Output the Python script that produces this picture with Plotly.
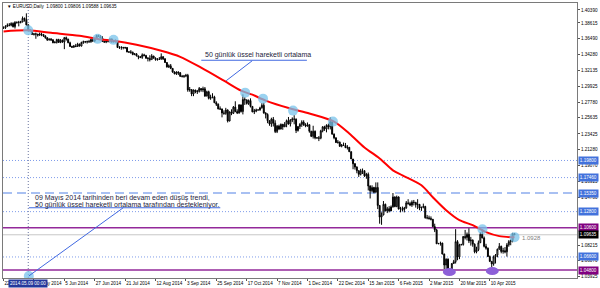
import plotly.graph_objects as go

# ---------------- data (EURUSD daily) ----------------
first_open = 1.3790
closes = [
1.3795,1.3815,1.3830,1.3830,1.3855,1.3810,1.3870,1.3870,1.3870,1.3875,
1.3925,1.3910,1.3835,1.3760,1.3760,1.3705,1.3710,1.3710,1.3695,1.3710,
1.3705,1.3685,1.3660,1.3630,1.3640,1.3630,1.3590,1.3595,1.3635,1.3595,
1.3625,1.3600,1.3660,1.3640,1.3590,1.3540,1.3530,1.3545,1.3540,1.3570,
1.3545,1.3595,1.3605,1.3605,1.3605,1.3605,1.3635,1.3615,1.3645,1.3690,
1.3680,1.3655,1.3610,1.3600,1.3610,1.3615,1.3640,1.3610,1.3605,1.3615,
1.3525,1.3525,1.3525,1.3525,1.3525,1.3465,1.3465,1.3460,1.3430,1.3440,
1.3410,1.3395,1.3390,1.3425,1.3415,1.3380,1.3375,1.3360,1.3410,1.3380,
1.3360,1.3365,1.3365,1.3400,1.3370,1.3320,1.3260,1.3275,1.3240,1.3190,
1.3165,1.3190,1.3180,1.3130,1.3130,1.3135,1.3145,1.2945,1.2950,1.2890,
1.2945,1.2920,1.2925,1.2965,1.2945,1.2960,1.2860,1.2920,1.2830,1.2845,
1.2850,1.2770,1.2750,1.2685,1.2685,1.2630,1.2625,1.2670,1.2520,1.2645,
1.2625,1.2710,1.2650,1.2630,1.2740,1.2650,1.2815,1.2810,1.2760,1.2800,
1.2720,1.2645,1.2655,1.2670,1.2672,1.2700,1.2735,1.2630,1.2610,1.2525,
1.2480,1.2545,1.2490,1.2375,1.2450,1.2410,1.2475,1.2440,1.2475,1.2525,
1.2480,1.2535,1.2545,1.2545,1.2390,1.2445,1.2475,1.2505,1.2465,1.2450,
1.2470,1.2380,1.2310,1.2380,1.2290,1.2288,1.2285,1.2385,1.2440,1.2410,
1.2460,1.2440,1.2510,1.2340,1.2290,1.2225,1.2230,1.2175,1.2190,1.2185,
1.2155,1.2160,1.2100,1.2000,1.1935,1.1890,1.1840,1.1790,1.1840,1.1840,
1.1770,1.1790,1.1630,1.1565,1.1610,1.1545,1.1610,1.1365,1.1205,1.1235,
1.1380,1.1290,1.1320,1.1290,1.1345,1.1480,1.1350,1.1480,1.1315,1.1320,
1.1310,1.1330,1.1400,1.1390,1.1370,1.1410,1.1405,1.1375,1.1380,1.1330,
1.1340,1.1350,1.1195,1.1195,1.1185,1.1175,1.1075,1.1030,1.0840,1.0845,
1.0850,1.0700,1.0550,1.0630,1.0495,1.0490,1.0570,1.0595,1.0870,1.0660,
1.0825,1.0830,1.0940,1.0925,1.0970,1.0880,1.0890,1.0835,1.0730,1.0760,
1.0855,1.0970,1.0920,1.0805,1.0780,1.0665,1.0600,1.0565,1.0660,1.0685,
1.0765,1.0805,1.0735,1.0745,1.0730,1.0825,1.0870,1.0885,1.0980,1.09635]
highs = [
1.3815,1.3830,1.3855,1.3860,1.3870,1.3870,1.3885,1.3880,1.3890,1.3890,
1.3950,1.3935,1.3993,1.3845,1.3775,1.3765,1.3725,1.3730,1.3710,1.3730,
1.3730,1.3710,1.3690,1.3665,1.3650,1.3655,1.3640,1.3615,1.3645,1.3645,
1.3640,1.3635,1.3670,1.3675,1.3645,1.3605,1.3550,1.3560,1.3575,1.3590,
1.3580,1.3605,1.3620,1.3615,1.3620,1.3630,1.3645,1.3645,1.3650,1.3700,
1.3700,1.3695,1.3680,1.3615,1.3625,1.3635,1.3650,1.3650,1.3625,1.3635,
1.3620,1.3545,1.3545,1.3535,1.3535,1.3530,1.3475,1.3490,1.3470,1.3445,
1.3445,1.3415,1.3410,1.3445,1.3440,1.3425,1.3395,1.3420,1.3435,1.3410,
1.3390,1.3380,1.3395,1.3445,1.3405,1.3380,1.3325,1.3295,1.3300,1.3215,
1.3200,1.3200,1.3200,1.3190,1.3150,1.3150,1.3165,1.3165,1.2985,1.2950,
1.2950,1.2945,1.2945,1.2985,1.2965,1.2990,1.2985,1.2935,1.2935,1.2880,
1.2900,1.2865,1.2790,1.2760,1.2720,1.2690,1.2665,1.2700,1.2680,1.2650,
1.2680,1.2725,1.2790,1.2680,1.2750,1.2745,1.2885,1.2845,1.2810,1.2815,
1.2830,1.2725,1.2685,1.2690,1.2675,1.2715,1.2765,1.2770,1.2640,1.2625,
1.2525,1.2565,1.2575,1.2530,1.2465,1.2470,1.2485,1.2480,1.2505,1.2540,
1.2575,1.2545,1.2570,1.2600,1.2555,1.2450,1.2490,1.2530,1.2530,1.2490,
1.2500,1.2470,1.2385,1.2455,1.2390,1.2295,1.2315,1.2400,1.2450,1.2455,
1.2475,1.2485,1.2570,1.2510,1.2350,1.2295,1.2260,1.2240,1.2205,1.2225,
1.2220,1.2190,1.2165,1.2105,1.1975,1.1945,1.1900,1.1845,1.1865,1.1870,
1.1845,1.1810,1.1815,1.1640,1.1640,1.1620,1.1680,1.1680,1.1365,1.1270,
1.1425,1.1390,1.1345,1.1355,1.1365,1.1535,1.1490,1.1500,1.1490,1.1345,
1.1350,1.1345,1.1425,1.1450,1.1415,1.1435,1.1440,1.1415,1.1450,1.1385,
1.1345,1.1390,1.1360,1.1235,1.1225,1.1215,1.1180,1.1115,1.1045,1.0850,
1.0870,1.0855,1.0705,1.0640,1.0640,1.0500,1.0575,1.0620,1.1040,1.0890,
1.0840,1.0840,1.0945,1.1030,1.0995,1.1052,1.0935,1.0900,1.0845,1.0800,
1.0885,1.1000,1.1035,1.0940,1.0840,1.0790,1.0680,1.0600,1.0680,1.0700,
1.0775,1.0850,1.0815,1.0785,1.0795,1.0850,1.0890,1.0900,1.0990,1.09806]
lows = [
1.3780,1.3780,1.3805,1.3815,1.3815,1.3800,1.3785,1.3850,1.3815,1.3855,
1.3870,1.3880,1.3825,1.3750,1.3740,1.3700,1.3690,1.3645,1.3675,1.3685,
1.3680,1.3670,1.3645,1.3615,1.3620,1.3615,1.3585,1.3585,1.3580,1.3590,
1.3585,1.3590,1.3503,1.3620,1.3585,1.3535,1.3520,1.3520,1.3530,1.3535,
1.3540,1.3540,1.3575,1.3585,1.3580,1.3590,1.3590,1.3600,1.3600,1.3640,
1.3670,1.3650,1.3600,1.3590,1.3585,1.3595,1.3595,1.3590,1.3595,1.3595,
1.3520,1.3505,1.3495,1.3500,1.3505,1.3460,1.3450,1.3440,1.3420,1.3420,
1.3405,1.3365,1.3380,1.3370,1.3405,1.3370,1.3335,1.3335,1.3360,1.3375,
1.3345,1.3345,1.3355,1.3360,1.3355,1.3315,1.3250,1.3245,1.3230,1.3180,
1.3160,1.3150,1.3150,1.3130,1.3115,1.3110,1.3120,1.2920,1.2920,1.2860,
1.2860,1.2900,1.2890,1.2910,1.2920,1.2915,1.2855,1.2860,1.2815,1.2810,
1.2830,1.2765,1.2725,1.2680,1.2670,1.2570,1.2605,1.2605,1.2500,1.2515,
1.2600,1.2615,1.2640,1.2615,1.2620,1.2635,1.2610,1.2740,1.2745,1.2740,
1.2705,1.2640,1.2615,1.2640,1.2665,1.2660,1.2690,1.2620,1.2555,1.2490,
1.2455,1.2440,1.2445,1.2355,1.2355,1.2395,1.2405,1.2400,1.2445,1.2435,
1.2470,1.2445,1.2505,1.2475,1.2355,1.2375,1.2410,1.2440,1.2455,1.2435,
1.2445,1.2360,1.2300,1.2280,1.2270,1.2280,1.2245,1.2270,1.2365,1.2385,
1.2365,1.2405,1.2405,1.2335,1.2270,1.2220,1.2210,1.2165,1.2160,1.2180,
1.2150,1.2130,1.2095,1.2000,1.1860,1.1855,1.1805,1.1755,1.1775,1.1795,
1.1755,1.1730,1.1570,1.1460,1.1545,1.1530,1.1545,1.1315,1.1115,1.1100,
1.1230,1.1285,1.1260,1.1270,1.1310,1.1335,1.1340,1.1340,1.1310,1.1270,
1.1285,1.1270,1.1320,1.1375,1.1355,1.1345,1.1365,1.1335,1.1315,1.1300,
1.1290,1.1325,1.1185,1.1175,1.1170,1.1160,1.1070,1.1000,1.0840,1.0835,
1.0815,1.0695,1.0495,1.0495,1.0462,1.0480,1.0460,1.0565,1.0570,1.0615,
1.0630,1.0820,1.0815,1.0900,1.0885,1.0850,1.0815,1.0800,1.0710,1.0710,
1.0740,1.0850,1.0915,1.0790,1.0760,1.0660,1.0590,1.0521,1.0540,1.0570,
1.0655,1.0760,1.0710,1.0705,1.0710,1.0665,1.0800,1.0820,1.0860,1.09588]
opens = [first_open] + closes[:-1]
bars = list(range(len(closes)))

# 50-day exponential moving average
ema_bars = [0, 13, 25, 40, 51, 58, 70, 83, 93, 104, 116, 125, 131, 138, 151,
            161, 174, 182, 190, 198, 205, 210, 220, 226, 233, 240, 247, 254, 261, 269]
ema_vals = [1.3746, 1.3760, 1.3726, 1.3685, 1.3636, 1.3617, 1.3562, 1.3480, 1.3398,
            1.3249, 1.3071, 1.2935, 1.2880, 1.2799, 1.2690, 1.2622, 1.2512, 1.2349,
            1.2158, 1.2008, 1.1845, 1.1776, 1.1640, 1.1476, 1.1299, 1.1163, 1.1095,
            1.1000, 1.0945, 1.0928]

# highlighted touches (light blue) and bottoms (purple)
touch_bars = [13, 49.5, 57.9, 127.2, 136.6, 152.4, 173.4, 252.1, 269, 13.3]
touch_vals = [1.3760, 1.3644, 1.3630, 1.2908, 1.2826, 1.2662, 1.2512, 1.1040, 1.0931, 1.0400]
bottom_bars = [234.7, 257.3]
bottom_vals = [1.0454, 1.0468]

# x-axis labels
x_tick_bars = [0, 16, 32, 48, 64, 80, 96, 112, 128, 144, 160, 176, 192, 208, 224, 240, 256]
x_tick_text = ["22 Apr 2014", "14 May 2014", "5 Jun 2014", "27 Jun 2014", "21 Jul 2014",
               "12 Aug 2014", "3 Sep 2014", "25 Sep 2014", "17 Oct 2014", "7 Nov 2014",
               "1 Dec 2014", "22 Dec 2014", "15 Jan 2015", "6 Feb 2015", "2 Mar 2015",
               "20 Mar 2015", "10 Apr 2015"]
# y-axis labels (those hidden under the level boxes are left out)
y_ticks = [1.40390, 1.38615, 1.36490, 1.34280, 1.32135, 1.29925, 1.27780, 1.25635,
           1.23425, 1.21280, 1.19070, 1.16925, 1.14780, 1.08215, 1.06070, 1.03925]

# horizontal levels
dotted_levels = [1.19800, 1.17460, 1.12800, 1.06600]
dashed_levels = [1.15350]
purple_levels = [1.10600, 1.04800]
bid_level = 1.09635

title_text = "EURUSD,Daily  1.09800 1.09806 1.09588 1.09635"
note_ema = "50 günlük üssel hareketli ortalama"
note_line1 = "09 Mayıs 2014 tarihinden beri devam eden düşüş trendi,"
note_line2 = "50 günlük üssel hareketli ortalama tarafından destekleniyor."
ema_last_text = "1.0928"
cross_label = "2014.05.09 00:00"

# ---------------- figure ----------------
UI = "Liberation Sans, Arial, sans-serif"
BLUE = "#4169e1"

fig = go.Figure()
fig.add_trace(go.Candlestick(
    x=bars, open=opens, high=highs, low=lows, close=closes,
    increasing=dict(line=dict(color="black", width=1), fillcolor="white"),
    decreasing=dict(line=dict(color="black", width=1), fillcolor="black"),
    whiskerwidth=0, hoverinfo="skip", showlegend=False))
fig.add_trace(go.Scatter(
    x=ema_bars, y=ema_vals, mode="lines",
    line=dict(color="#ff0000", width=2, shape="spline", smoothing=0.8),
    hoverinfo="skip", showlegend=False))
fig.add_trace(go.Scatter(
    x=touch_bars, y=touch_vals, mode="markers",
    marker=dict(size=10, color="rgba(120,195,235,0.75)", line=dict(width=0)),
    hoverinfo="skip", showlegend=False))

shapes = []
for v in dotted_levels:
    shapes.append(dict(type="line", xref="paper", x0=0, x1=1, yref="y", y0=v, y1=v,
                       line=dict(color="#7f9cea", width=1, dash="1px,2px"), layer="below"))
for v in dashed_levels:
    shapes.append(dict(type="line", xref="paper", x0=0, x1=1, yref="y", y0=v, y1=v,
                       line=dict(color="#a8c0f2", width=2, dash="9px,5px"), layer="below"))
for v in purple_levels:
    shapes.append(dict(type="line", xref="paper", x0=0, x1=1, yref="y", y0=v, y1=v,
                       line=dict(color="#93299a", width=1.5), layer="below"))
shapes.append(dict(type="line", xref="paper", x0=0, x1=1, yref="y", y0=bid_level, y1=bid_level,
                   line=dict(color="#c8c8c8", width=1), layer="below"))
# crosshair
shapes.append(dict(type="line", xref="x", x0=13, x1=13, yref="paper", y0=0, y1=1,
                   line=dict(color="#6a74a0", width=1, dash="1px,2px"), layer="below"))
# drawing objects
shapes.append(dict(type="line", xref="x", yref="y", x0=104.1, y0=1.3351, x1=159.7, y1=1.3351,
                   line=dict(color=BLUE, width=1)))
shapes.append(dict(type="line", xref="x", yref="y", x0=130.9, y0=1.3344, x1=117.2, y1=1.3071,
                   line=dict(color=BLUE, width=1)))
shapes.append(dict(type="line", xref="x", yref="y", x0=13.3, y0=1.0400, x1=63.0, y1=1.1333,
                   line=dict(color=BLUE, width=1)))
shapes.append(dict(type="line", xref="x", yref="y", x0=13.3, y0=1.1333, x1=114.1, y1=1.1333,
                   line=dict(color=BLUE, width=1)))
for b, v in zip(bottom_bars, bottom_vals):
    shapes.append(dict(type="circle", xref="x", yref="y", xsizemode="pixel", ysizemode="pixel",
                       xanchor=b, yanchor=v, x0=-6.5, x1=6.5, y0=-4, y1=4,
                       fillcolor="#8d60d8", line=dict(width=0)))

ann = []
ann.append(dict(text="▼ " + title_text, xref="paper", yref="paper", x=0.004, y=0.986,
                xanchor="left", yanchor="middle", showarrow=False,
                font=dict(family=UI, size=4.6, color="black")))
ann.append(dict(text=note_ema, xref="x", yref="y", x=105.2, y=1.3426, xanchor="left",
                yanchor="middle", showarrow=False, font=dict(family=UI, size=7, color="#1c1c3c")))
ann.append(dict(text=note_line1, xref="x", yref="y", x=15.4, y=1.1463, xanchor="left",
                yanchor="middle", showarrow=False, font=dict(family=UI, size=7, color="#1c1c3c")))
ann.append(dict(text=note_line2, xref="x", yref="y", x=15.6, y=1.1367, xanchor="left",
                yanchor="middle", showarrow=False, font=dict(family=UI, size=7, color="#1c1c3c")))
ann.append(dict(text=ema_last_text, xref="x", yref="y", x=272, y=1.0918, xanchor="left",
                yanchor="middle", showarrow=False, font=dict(family=UI, size=6, color="#808080")))
ann.append(dict(text=cross_label, xref="x", yref="paper", x=13, y=-0.02, xanchor="center",
                yanchor="middle", showarrow=False, bgcolor="#25389c", borderpad=1,
                font=dict(family=UI, size=4.6, color="white")))
level_labels = [(1.19800, "#4272dc"), (1.17460, "#4272dc"), (1.15350, "#4272dc"),
                (1.12800, "#4272dc"), (1.10600, "#800080"), (1.09635, "#000000"),
                (1.06600, "#4272dc"), (1.04800, "#800080")]
for v, c in level_labels:
    ann.append(dict(text=f"{v:.5f}", xref="paper", yref="y", x=1, y=v, xanchor="left",
                    yanchor="middle", xshift=1, showarrow=False, bgcolor=c, borderpad=0.8,
                    font=dict(family=UI, size=4.6, color="white")))

fig.update_layout(
    width=600, height=288,
    margin=dict(l=2, r=22, t=2, b=10),
    paper_bgcolor="white", plot_bgcolor="white",
    shapes=shapes, annotations=ann, showlegend=False,
    xaxis=dict(range=[-0.3, 301.9], rangeslider=dict(visible=False), showgrid=False,
               zeroline=False, tickvals=x_tick_bars, ticktext=x_tick_text, tickangle=0,
               ticklabelposition="outside right", ticks="outside", ticklen=2,
               tickcolor="#555555", tickfont=dict(family=UI, size=4.6, color="black"),
               showline=True, linecolor="#7a7a7a", linewidth=1, mirror=True),
    yaxis=dict(range=[1.03721, 1.41344], side="right", showgrid=False, zeroline=False,
               tickvals=y_ticks, ticktext=[f"{v:.5f}" for v in y_ticks],
               ticks="outside", ticklen=2, tickcolor="#555555",
               tickfont=dict(family=UI, size=4.6, color="black"),
               showline=True, linecolor="#7a7a7a", linewidth=1, mirror=True),
)

fig.write_html("out.html")
